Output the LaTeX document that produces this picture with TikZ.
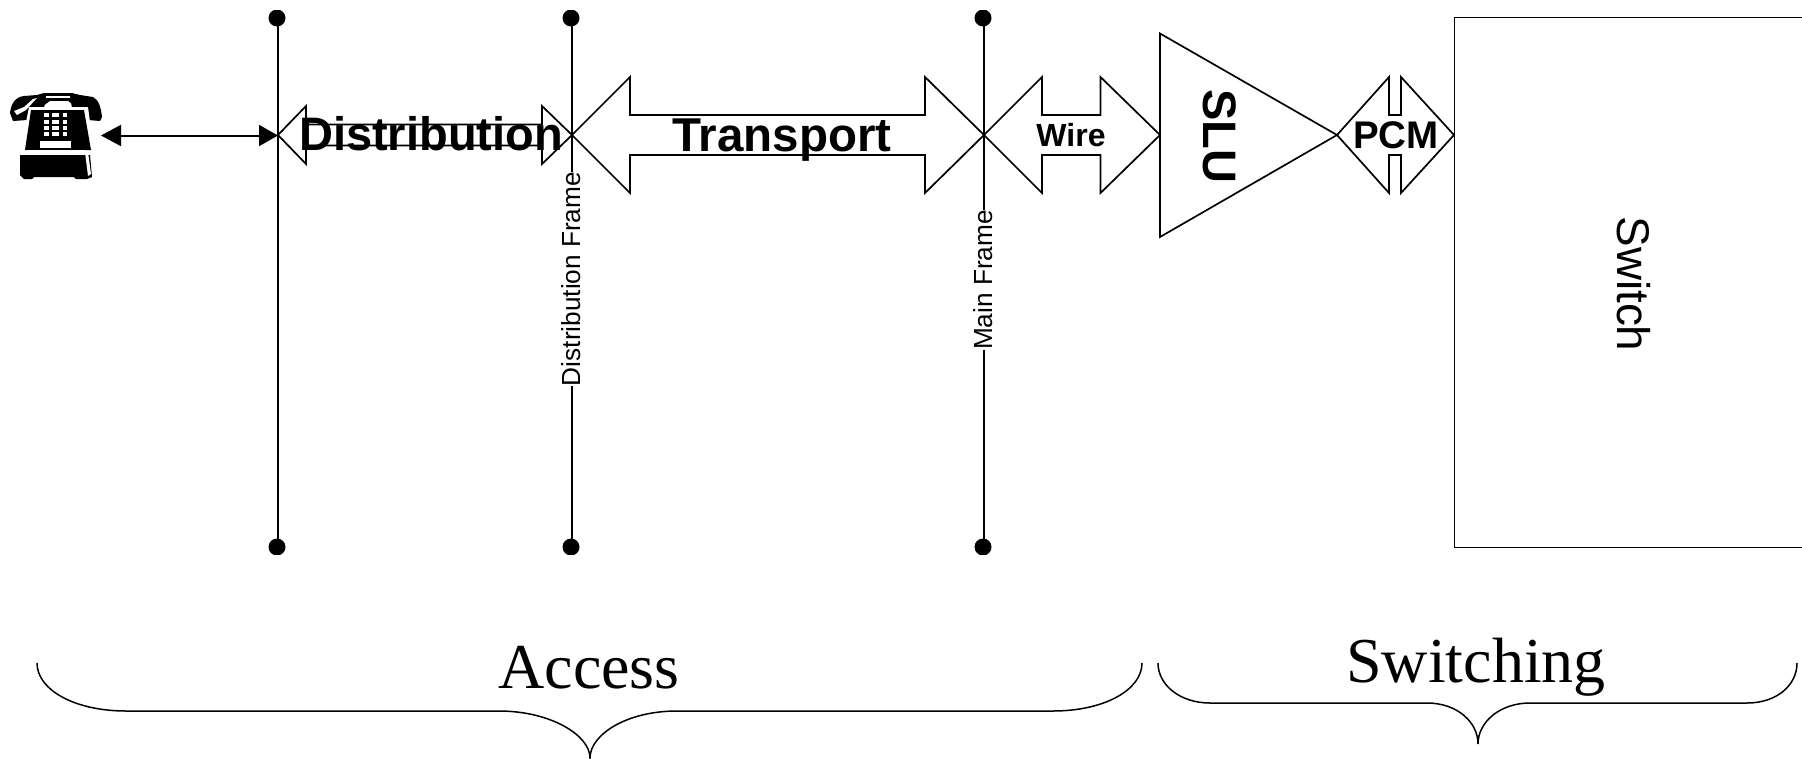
\documentclass[tikz,border=0pt]{standalone}
\usepackage{fontspec}
\setmainfont{Liberation Sans}
\newfontfamily\timesfont{Liberation Serif}
\usetikzlibrary{arrows.meta}
\tikzset{
  ln/.style={line width=1.7pt,draw=black,line join=miter},
  shapebox/.style={ln,fill=white},
  dotnode/.style={circle,fill=black,draw=none,inner sep=0pt,minimum size=17pt},
  biglabel/.style={inner sep=0pt,font=\bfseries\fontsize{47.5}{50}\selectfont,anchor=base},
  framelabel/.style={inner sep=0pt,fill=white,rotate=90,font=\fontsize{26.2}{30}\selectfont},
  bracetext/.style={inner sep=0pt,anchor=base,font=\timesfont\fontsize{64}{70}\selectfont},
  bracecurve/.style={line width=1.5pt,draw=black},
  bothtips/.style={line width=2pt,{Triangle[length=20pt,width=21pt]}-{Triangle[length=19pt,width=21pt]}}
}
\newcommand{\dblshape}[6]{%
  \draw[shapebox] (#1,135) -- (#2,135-#5) -- (#2,135-#6) -- (#3,135-#6) -- (#3,135-#5) -- (#4,135)
    -- (#3,135+#5) -- (#3,135+#6) -- (#2,135+#6) -- (#2,135+#5) -- cycle;}
\begin{document}
\begin{tikzpicture}[x=1pt,y=-1pt]
\useasboundingbox (0,0) rectangle (1802,758);
\clip (0,0) rectangle (1802,758);

% double arrows
\dblshape{278}{306}{542}{572}{29}{10.5}
\dblshape{572}{630}{925}{984}{58}{20}
\dblshape{984}{1042}{1100.5}{1160}{58}{20}
\dblshape{1337}{1389}{1401}{1454}{58}{20}

% SLU amplifier and switch
\draw[shapebox] (1160,33.5) -- (1337,135) -- (1160,237) -- cycle;
\draw[ln] (1811,17.5) -- (1454.5,17.5) -- (1454.5,547.5) -- (1811,547.5);

% frame posts
\begin{scope}
\clip (0,10.5) rectangle (1802,554.5);
\node[dotnode] (a1) at (277,18) {};
\node[dotnode] (a2) at (277,547) {};
\node[dotnode] (b1) at (571,18) {};
\node[dotnode] (b2) at (571,547) {};
\node[dotnode] (c1) at (983,18) {};
\node[dotnode] (c2) at (983,547) {};
\end{scope}
\draw[ln] (278,18) -- (278,547);
\draw[ln] (572,18) -- (572,547);
\draw[ln] (984,18) -- (984,547);

% telephone
\node[inner sep=0pt,minimum width=92pt,minimum height=86pt] (phone) at (56,136) {};
\coordinate (phoneport) at (101,135.5);
\coordinate (frameport) at (278,135.5);
\draw[bothtips] (phoneport) -- (frameport);
\fill[black] (10,113) .. controls (11,104) and (15,97) .. (24,96) -- (37,95) -- (44,93) -- (72,93) -- (80,95) -- (93,97)
  .. controls (99,100) and (101,108) .. (102,117) -- (100,121) -- (88,120) -- (80,110) -- (36,110) -- (27,120) -- (13,121) -- cycle;
\fill[white] (14,111) -- (24,107) -- (33,99) -- (37,98) -- (26,110) -- (17,115) -- cycle;
\fill[white] (46,96) -- (72,96) -- (72,98) -- (46,98) -- cycle;
\fill[white] (42,107) -- (50,101) -- (68,101) -- (76,107) -- (76,110) -- (42,110) -- cycle;
\fill[black] (36,108) -- (40,96) -- (46,96) -- (44,108) -- cycle;
\fill[black] (72,108) -- (70,96) -- (76,96) -- (80,108) -- cycle;
\fill[white] (29,107) -- (88,107) -- (94,152) -- (20,152) -- cycle;
\fill[black] (31,110) -- (84,110) -- (91,150) -- (25,150) -- cycle;
\fill[white] (27,150) -- (85,150) -- (85,154) -- (27,154) -- cycle;
\fill[black] (20,155) -- (90,155) -- (92,177) -- (87,179) -- (76,179) -- (74,177) -- (34,177) -- (32,179) -- (24,179) -- (20,175) -- cycle;
\fill[white] (85,152) -- (88,152) -- (91,174) -- (88,176) -- cycle;
\foreach \yy/\hh in {113/4,120/3.5,126/4,132/3.5}{
  \fill[white] (44,\yy) rectangle ++(4.5,\hh);
  \fill[white] (52,\yy) rectangle ++(7,\hh);
  \fill[white] (62.5,\yy) rectangle ++(4.5,\hh);
}
\fill[white] (40,141) rectangle (71,148);

% big labels
\node[biglabel,font=\bfseries\fontsize{47}{50}\selectfont] (distribution) at (431,150) {Distribution};
\node[biglabel] (transport) at (782,151) {Transport};
\node[biglabel,font=\bfseries\fontsize{32}{36}\selectfont] (wire) at (1071,146) {Wire};
\node[biglabel,font=\bfseries\fontsize{38.5}{42}\selectfont] (pcm) at (1396,148) {PCM};
\node[inner sep=0pt,rotate=-90,anchor=base,font=\bfseries\fontsize{47}{50}\selectfont] (slu) at (1203,136) {SLU};
\node[inner sep=0pt,rotate=-90,anchor=base,font=\fontsize{45.8}{48}\selectfont] (switch) at (1617,284) {Switch};

% frame labels
\node[framelabel] (dframe) at (571,279) {Distribution Frame};
\node[framelabel] (mframe) at (983,280) {Main Frame};

% braces
\draw[bracecurve] (37,663) .. controls (37,690) and (75,711) .. (126,711) -- (499,711)
  .. controls (550,711) and (590,735) .. (590,758) .. controls (590,735) and (626,711) .. (677,711)
  -- (1053,711) .. controls (1104,711) and (1142,690) .. (1142,663);
\draw[bracecurve] (1158,663) .. controls (1158,685) and (1180,703) .. (1210,703) -- (1427,703)
  .. controls (1457,703) and (1478,722) .. (1478,744) .. controls (1478,722) and (1500,703) .. (1530,703)
  -- (1747,703) .. controls (1777,703) and (1797,685) .. (1797,663);
\node[bracetext] (access) at (589,688) {Access};
\node[bracetext] (switching) at (1476,682) {Switching};
\end{tikzpicture}
\end{document}
